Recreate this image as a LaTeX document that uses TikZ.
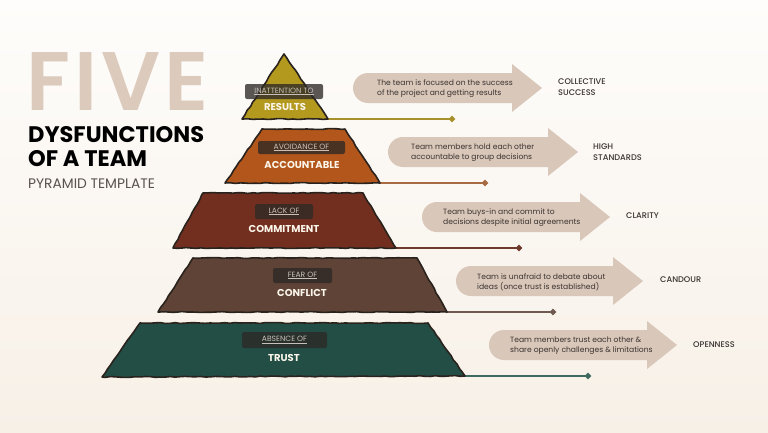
\documentclass[tikz,border=0pt]{standalone}
\usepackage{fontspec}
\setmainfont{Poppins}
\newfontfamily\fivefont{Poppins SemiBold}[LetterSpace=5]
\newfontfamily\medfont{Poppins Medium}
\usetikzlibrary{shapes.geometric, decorations.pathmorphing}
\definecolor{bgtop}{HTML}{FEFDFB}
\definecolor{bgbot}{HTML}{F7F0E7}
\definecolor{fivecol}{HTML}{DCCABD}
\definecolor{arrowcol}{HTML}{D9C7B9}
\definecolor{darktext}{HTML}{3A3330}
\definecolor{graytext}{HTML}{5A524D}
\definecolor{outl}{HTML}{2A221C}
\definecolor{lyA}{HTML}{B39A1F}
\definecolor{lyB}{HTML}{B2561B}
\definecolor{lyC}{HTML}{722F1F}
\definecolor{lyD}{HTML}{5E4336}
\definecolor{lyE}{HTML}{234E46}
\definecolor{lnA}{HTML}{A8902A}
\definecolor{lnB}{HTML}{A86A40}
\definecolor{lnC}{HTML}{6E3A2C}
\definecolor{lnD}{HTML}{6E5A50}
\definecolor{lnE}{HTML}{3F6A60}
\definecolor{tagfill}{HTML}{2D2926}
\definecolor{tagtext}{HTML}{C8C0BA}
\definecolor{titlecol}{HTML}{FBF5EA}
\newcommand{\beigearrow}[3]{%
  \fill[arrowcol] (#1+15,#3-15) -- (#2-30,#3-15) -- (#2-30,#3-24) -- (#2,#3)
    -- (#2-30,#3+24) -- (#2-30,#3+15) -- (#1+15,#3+15) arc(90:270:15) -- cycle;}
\tikzset{
  layer/.style={draw=outl, line width=1.6pt, line join=round,
    decorate, decoration={random steps, segment length=5pt, amplitude=0.45pt}},
  tagbox/.style={fill=tagfill, fill opacity=0.78, text opacity=1, rounded corners=2pt,
    inner sep=0pt, text=tagtext, font=\fontsize{7.6}{8}\selectfont},
  layertitle/.style={text=titlecol, font=\fontsize{10}{12}\selectfont\bfseries, inner sep=0pt},
  conn/.style={line width=1.3pt},
  marker/.style={diamond, fill, inner sep=0pt, minimum size=7pt},
  desc/.style={anchor=west, align=left, text=darktext, inner sep=0pt,
    font=\fontsize{7.6}{10}\selectfont},
  outcome/.style={anchor=west, align=left, text=darktext, inner sep=0pt,
    font=\medfont\fontsize{8.2}{11}\selectfont}
}
\begin{document}
\begin{tikzpicture}[x=1pt,y=-1pt]
\pgfmathsetseed{7}
\useasboundingbox (0,0) rectangle (768,432);
\shade[top color=bgtop, bottom color=bgbot] (0,0) rectangle (768,432);

% title
\node[anchor=base west, inner sep=0pt, text depth=0pt, text=fivecol, font=\fivefont\fontsize{83}{83}\selectfont] (five) at (26,110) {FIVE};
\node[anchor=base west, inner sep=0pt, font=\fontsize{22.5}{22}\selectfont\bfseries] (dys) at (28,142) {DYSFUNCTIONS};
\node[anchor=base west, inner sep=0pt, font=\fontsize{22.5}{22}\selectfont\bfseries] (team) at (28,166) {OF A TEAM};
\node[anchor=base west, inner sep=0pt, text=graytext, font=\fontsize{13.8}{14}\selectfont] (tmpl) at (28,188) {PYRAMID TEMPLATE};

% arrows
\beigearrow{353}{542}{88}
\beigearrow{388}{578}{152}
\beigearrow{422}{610}{217}
\beigearrow{456}{643}{281}
\beigearrow{489}{677}{345}

\node[desc] (dA) at (377,89) {The team is focused on the success\\of the project and getting results};
\node[desc] (dB) at (411,153) {Team members hold each other\\accountable to group decisions};
\node[desc] (dC) at (443,218) {Team buys-in and commit to\\decisions despite initial agreements};
\node[desc] (dD) at (477,282) {Team is unafraid to debate about\\ideas (once trust is established)};
\node[desc] (dE) at (510,346) {Team members trust each other \&\\share openly challenges \& limitations};

\node[outcome] (oA) at (558,87) {COLLECTIVE\\SUCCESS};
\node[outcome] (oB) at (593,152) {HIGH\\STANDARDS};
\node[outcome] (oC) at (626,216) {CLARITY};
\node[outcome] (oD) at (660,280) {CANDOUR};
\node[outcome] (oE) at (693,345) {OPENNESS};

% connector lines
\coordinate (aR) at (328,119);
\coordinate (bR) at (380,183);
\coordinate (cR) at (396,248);
\coordinate (dR) at (447,312);
\coordinate (eR) at (465,376);
\node[marker, lnA] (mA) at (452,119) {};
\node[marker, lnB] (mB) at (485,183) {};
\node[marker, lnC] (mC) at (519,248) {};
\node[marker, lnD] (mD) at (553,312) {};
\node[marker, lnE] (mE) at (588,376) {};
\draw[conn, lnA] (aR) -- (mA.center);
\draw[conn, lnB] (bR) -- (mB.center);
\draw[conn, lnC] (cR) -- (mC.center);
\draw[conn, lnD] (dR) -- (mD.center);
\draw[conn, lnE] (eR) -- (mE.center);

% layers
\filldraw[layer, fill=lyA] (284,54) -- (aR) -- (242,119) -- cycle;
\filldraw[layer, fill=lyB] (262,129) -- (345,129) -- (bR) -- (225,183) -- cycle;
\filldraw[layer, fill=lyC] (203,193) -- (363,193) -- (cR) -- (173,248) -- cycle;
\filldraw[layer, fill=lyD] (193,258) -- (417,258) -- (dR) -- (158,312) -- cycle;
\filldraw[layer, fill=lyE] (140,323) -- (428,323) -- (eR) -- (102,377) -- cycle;

% tags
\node[tagbox, minimum width=78pt, minimum height=15pt] (tA) at (284,91.5) {\underline{INATTENTION TO}};
\node[tagbox, minimum width=87pt, minimum height=13pt] (tB) at (301.5,147.5) {\underline{AVOIDANCE OF}};
\node[tagbox, minimum width=58pt, minimum height=15pt] (tC) at (284,211.5) {\underline{LACK OF}};
\node[tagbox, minimum width=59pt, minimum height=15pt] (tD) at (302.5,275.5) {\underline{FEAR OF}};
\node[tagbox, minimum width=85pt, minimum height=16pt] (tE) at (284.5,340) {\underline{ABSENCE OF}};

\node[layertitle] (nA) at (285,107) {RESULTS};
\node[layertitle] (nB) at (302,165) {ACCOUNTABLE};
\node[layertitle] (nC) at (284,229) {COMMITMENT};
\node[layertitle] (nD) at (302,293) {CONFLICT};
\node[layertitle] (nE) at (284,358) {TRUST};
\end{tikzpicture}
\end{document}
